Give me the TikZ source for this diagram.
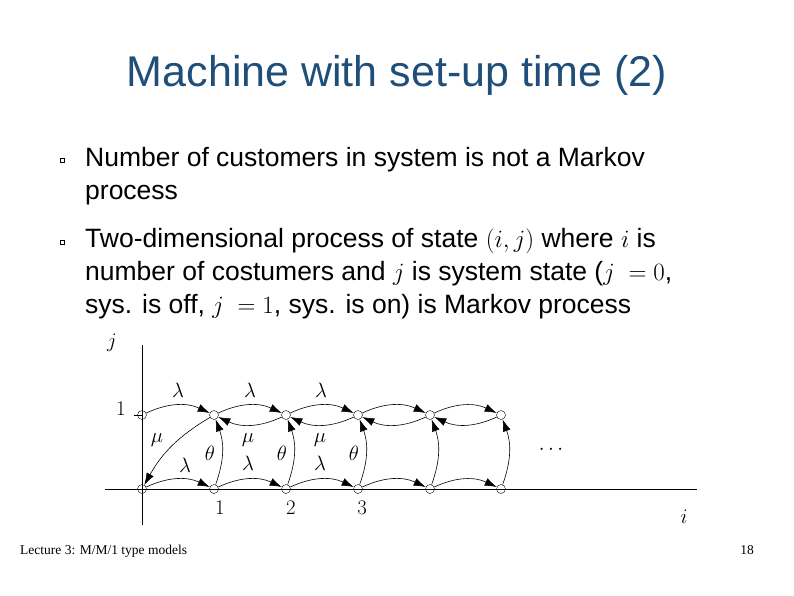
\documentclass[tikz,border=0pt]{standalone}
\usepackage{fontspec}
\setmainfont{Liberation Sans}
\newfontfamily\serifx{Liberation Serif}
\usetikzlibrary{arrows.meta}
\definecolor{titleblue}{HTML}{1F4E79}
\begin{document}
\begin{tikzpicture}[x=1pt,y=-1pt,
  st/.style={circle,draw,inner sep=0pt,minimum size=9pt,thin},
  arr/.style={-{Latex[length=12pt,width=8pt]},semithick},
  lab/.style={font=\fontsize{20}{20}\selectfont,inner sep=0pt},
  body/.style={anchor=base west,font=\fontsize{26.5}{30}\selectfont,inner sep=0pt}]
\useasboundingbox (0,0) rectangle (794,595);
\node[font=\fontsize{43}{46}\selectfont,text=titleblue] (title) at (397,75) {Machine with set-up time (2)};
\node[draw,inner sep=0pt,minimum size=4pt,fill=white] (bl1) at (62,160) {};
\node[draw,inner sep=0pt,minimum size=4pt] (bl2) at (62,242) {};
\node[body] (t1) at (85,166) {Number of customers in system is not a Markov};
\node[body] (t2) at (85,199) {process};
\node[body] (t3) at (85,247) {Two-dimensional process of state $(i,j)$ where $i$ is};
\node[body] (t4) at (85,280) {number of costumers and $j$ is system state ($j\;=0$,};
\node[body] (t5) at (85,313) {sys. is off, $j\;=1$, sys. is on) is Markov process};
% axes
\coordinate (ytop) at (142,345); \coordinate (ybot) at (142,525);
\coordinate (xl) at (105,489); \coordinate (xr) at (697,489);
\draw[thin] (ytop) -- (ybot);
\draw[thin] (xl) -- (xr);
\coordinate (tk1) at (134,415); \coordinate (tk2) at (142,415);
\draw[thin] (tk1) -- (tk2);
\node[lab,font=\fontsize{21}{21}\selectfont] (jl) at (112,343) {$j$};
\node[lab,font=\fontsize{21}{21}\selectfont] (il) at (684,517) {$i$};
\node[lab,font=\fontsize{21}{21}\selectfont] (one) at (121,409) {$1$};
\node[lab,font=\fontsize{21}{21}\selectfont] at (220,508) {$1$};
\node[lab,font=\fontsize{21}{21}\selectfont] at (291,508) {$2$};
\node[lab,font=\fontsize{21}{21}\selectfont] at (362,508) {$3$};
\node[lab] (dots) at (551,450) {$\cdots$};
\foreach \k/\x in {0/142,1/214,2/286,3/358,4/430,5/501}{
  \node[st] (b\k) at (\x,489) {};
  \node[st] (u\k) at (\x,415) {};
}
\foreach \a/\b in {0/1,1/2,2/3,3/4,4/5}{
  \draw[arr] (u\a) to[bend left=25] (u\b);
  \draw[arr] (b\a) to[bend left=25] (b\b);
}
\foreach \a/\b in {1/2,2/3,3/4,4/5}{
  \draw[arr] (u\b) to[bend left=25] (u\a);
}
\foreach \k in {1,...,5}{
  \draw[arr] (b\k) to[bend right=20] (u\k);
}
\draw[arr] (u1) to[bend right=15] (b0);
\foreach \x in {178,250,321}{\node[lab] at (\x,390) {$\lambda$};}
\node[lab] at (157,440) {$\mu$};
\node[lab] at (248,440) {$\mu$};
\node[lab] at (320,440) {$\mu$};
\node[lab] at (185,465) {$\lambda$};
\node[lab] at (248,463) {$\lambda$};
\node[lab] at (320,463) {$\lambda$};
\foreach \x in {210,282,354}{\node[lab] at (\x,453) {$\theta$};}
\node[anchor=base west,font=\serifx\fontsize{13.5}{13.5}\selectfont,inner sep=0pt] (foot) at (20,554) {Lecture 3: M/M/1 type models};
\node[anchor=base east,font=\serifx\fontsize{13.5}{13.5}\selectfont,inner sep=0pt] (pg) at (754,554) {18};
\end{tikzpicture}
\end{document}
